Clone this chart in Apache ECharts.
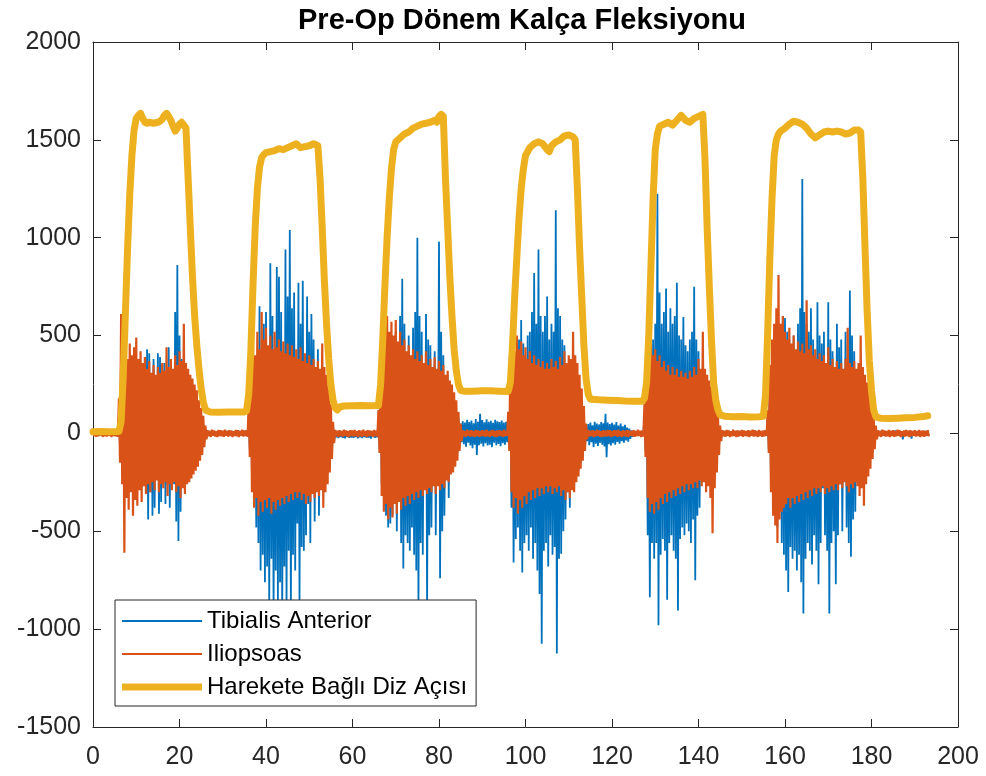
<!DOCTYPE html>
<html>
<head>
<meta charset="utf-8">
<script src="https://cdn.jsdelivr.net/npm/echarts@6/dist/echarts.min.js"></script>
<style>
  html, body { margin: 0; padding: 0; background: #ffffff; }
  #chart { width: 986px; height: 776px; }
</style>
</head>
<body>
<div id="chart"></div>
<script>
// EMG envelopes are stored as one high and one low reading per 0.5 s window,
// starting at t = 0 (one row per 10 s).
const EMG_STEP = 0.5;

const iliopsoasHigh = [
  14,18,12,16,19,13,15,17,12,18,14,16,180,610,350,420,380,460,400,440,
  490,380,420,360,390,330,370,310,350,300,340,310,360,320,440,340,380,330,400,350,
  420,370,560,360,330,300,280,250,220,170,130,90,40,17,13,19,15,12,18,16,
  14,19,13,17,15,12,18,16,13,19,15,17,150,380,450,400,520,430,620,480,
  540,450,500,430,520,440,480,420,470,410,460,400,450,390,430,380,440,370,410,360,
  400,350,380,340,370,330,460,340,300,240,150,60,18,14,16,12,19,15,13,17,
  15,18,12,16,14,19,13,17,15,12,18,14,120,420,520,480,600,520,570,500,
  580,470,520,450,480,420,450,400,430,380,420,370,400,360,420,350,380,340,390,330,
  370,320,350,300,320,270,250,210,170,110,50,16,13,19,14,17,12,18,15,13,
  17,14,19,12,16,18,13,15,17,12,19,14,110,380,470,420,500,430,470,400,
  440,380,420,360,400,350,380,340,370,330,360,330,380,340,370,330,390,350,420,360,
  400,380,520,400,360,300,230,140,50,18,14,16,13,19,15,12,17,14,18,16,
  13,17,15,19,12,16,14,18,15,13,17,12,19,14,16,150,380,430,460,400,
  430,370,400,340,370,320,350,300,340,300,330,290,320,290,310,280,320,290,340,300,
  380,330,520,330,300,270,240,200,150,90,40,17,13,18,15,12,19,14,16,13,
  18,15,12,17,14,19,16,13,18,12,15,17,120,350,480,560,640,810,560,600,
  520,480,540,460,500,430,470,420,460,410,680,430,450,400,430,380,410,370,400,360,
  440,350,380,340,370,330,360,330,380,540,360,340,370,330,360,500,340,300,260,210,
  150,90,40,16,13,19,15,12,18,14,17,13,19,16,12,15,18,14,17,13,
  16,12,18,14,15,13,17
];

const iliopsoasLow = [
  -13,-17,-15,-11,-18,-14,-16,-12,-19,-13,-15,-17,-150,-260,-610,-330,-390,-300,-420,-340,
  -370,-290,-350,-270,-310,-260,-300,-250,-290,-240,-300,-260,-280,-250,-320,-260,-290,-250,-300,-270,
  -330,-280,-310,-260,-250,-230,-210,-190,-170,-140,-110,-70,-30,-14,-18,-12,-16,-19,-13,-15,
  -17,-12,-16,-14,-19,-13,-15,-18,-12,-16,-14,-17,-120,-300,-380,-330,-420,-350,-400,-340,
  -380,-330,-410,-350,-390,-340,-370,-330,-360,-320,-350,-310,-340,-300,-330,-300,-340,-310,-360,-320,
  -350,-310,-330,-300,-320,-290,-380,-300,-260,-200,-130,-50,-15,-18,-13,-17,-12,-16,-19,-14,
  -16,-13,-18,-14,-17,-12,-19,-15,-13,-17,-14,-16,-100,-320,-400,-360,-440,-380,-430,-360,
  -410,-350,-390,-330,-370,-320,-360,-310,-340,-300,-330,-290,-320,-290,-310,-280,-300,-270,-310,-270,
  -290,-260,-280,-240,-250,-210,-200,-170,-140,-90,-40,-15,-18,-12,-16,-14,-19,-13,-17,-15,
  -13,-17,-15,-19,-12,-16,-18,-14,-13,-17,-15,-12,-90,-300,-380,-330,-410,-340,-380,-320,
  -360,-300,-340,-290,-330,-280,-320,-280,-310,-270,-300,-270,-310,-280,-300,-270,-320,-290,-340,-300,
  -330,-290,-300,-250,-220,-180,-140,-90,-30,-16,-13,-18,-15,-12,-17,-19,-14,-16,-13,-18,
  -15,-12,-17,-14,-19,-13,-16,-18,-12,-15,-17,-14,-13,-19,-16,-120,-330,-400,-360,-410,
  -350,-390,-330,-360,-310,-350,-300,-330,-290,-320,-280,-310,-270,-300,-260,-290,-260,-280,-250,-280,
  -240,-270,-250,-300,-270,-330,-510,-280,-200,-110,-40,-14,-17,-12,-18,-15,-13,-19,-16,-12,
  -17,-13,-15,-19,-12,-16,-14,-18,-13,-17,-15,-12,-100,-300,-420,-470,-560,-440,-400,-380,
  -360,-330,-380,-330,-360,-320,-350,-310,-340,-300,-330,-290,-320,-280,-310,-280,-300,-270,-310,-280,
  -300,-270,-290,-260,-290,-260,-280,-250,-270,-300,-260,-280,-250,-270,-320,-280,-370,-260,-220,-180,
  -130,-80,-30,-15,-18,-12,-16,-14,-19,-13,-17,-15,-12,-18,-14,-16,-13,-19,-15,-12,
  -16,-13,-18,-14,-17,-12,-15
];

const tibialisHigh = [
  8,11,6,9,12,7,10,8,11,6,9,10,90,200,230,250,240,260,250,270,
  300,260,280,250,300,430,410,260,380,240,410,390,250,360,280,440,260,280,620,860,
  500,380,300,240,220,200,180,160,140,110,80,50,20,9,12,7,10,8,11,6,
  10,7,12,8,11,9,6,10,12,7,9,11,90,250,300,280,340,650,400,560,
  620,380,870,600,420,850,800,620,400,940,700,1040,640,720,380,770,560,780,360,700,
  520,610,480,300,430,280,300,260,220,170,110,40,6,9,5,8,7,10,6,8,
  7,5,9,6,8,5,7,9,6,8,5,7,80,280,340,320,400,350,380,340,
  520,320,600,790,560,300,500,290,540,620,1000,600,520,260,610,480,450,240,420,230,
  980,520,400,210,300,180,170,140,110,80,50,62,55,70,58,66,52,74,60,101,
  68,57,72,60,65,54,70,62,58,66,55,60,80,260,320,290,340,480,580,460,
  300,500,520,620,820,560,940,600,520,600,700,480,560,520,1140,640,600,480,450,250,
  280,260,350,270,240,200,150,90,40,48,55,42,60,50,46,58,52,101,56,48,
  54,45,58,40,50,36,44,30,25,15,10,12,8,11,9,100,260,290,300,480,
  560,1225,720,560,620,740,520,640,560,600,770,500,480,595,450,420,480,520,750,480,
  420,230,350,220,200,180,160,130,100,60,25,9,12,7,10,8,11,6,9,12,
  8,10,7,11,9,6,12,8,10,7,9,11,80,240,320,380,430,500,540,600,
  590,520,480,310,500,290,560,640,1300,620,560,520,640,480,290,670,500,460,520,240,
  670,480,420,230,560,440,480,220,520,360,730,500,420,220,240,330,230,200,170,140,
  100,60,25,9,12,7,10,8,11,6,9,15,10,8,11,7,9,12,8,10,
  9,11,7,10,8,12,9
];

const tibialisLow = [
  -9,-12,-7,-10,-8,-11,-6,-9,-12,-8,-10,-7,-80,-180,-230,-240,-260,-230,-280,-250,
  -260,-230,-250,-220,-280,-440,-300,-420,-380,-230,-410,-350,-240,-360,-260,-380,-240,-260,-450,-550,
  -400,-250,-230,-200,-190,-170,-150,-140,-120,-100,-70,-45,-20,-10,-7,-12,-8,-11,-9,-6,
  -11,-8,-10,-6,-12,-9,-7,-11,-8,-10,-12,-9,-80,-220,-300,-480,-560,-700,-620,-760,
  -680,-880,-640,-900,-700,-860,-760,-920,-680,-880,-600,-900,-620,-700,-460,-860,-580,-600,-520,-360,
  -560,-300,-450,-280,-420,-260,-300,-240,-200,-150,-100,-40,-20,-24,-18,-22,-25,-19,-23,-21,
  -22,-18,-25,-20,-24,-19,-23,-21,-26,-18,-22,-20,-80,-260,-340,-420,-480,-460,-420,-330,
  -500,-300,-560,-690,-520,-560,-600,-480,-620,-700,-900,-560,-620,-280,-900,-520,-480,-260,-520,-250,
  -740,-500,-420,-220,-330,-170,-160,-130,-100,-70,-45,-55,-68,-48,-62,-75,-58,-110,-60,-52,
  -66,-50,-62,-57,-70,-48,-60,-54,-65,-50,-58,-45,-70,-380,-660,-540,-480,-600,-710,-560,
  -520,-600,-480,-640,-560,-700,-820,-1075,-600,-560,-680,-520,-620,-580,-1125,-640,-615,-500,-440,-300,
  -380,-250,-280,-220,-190,-150,-110,-70,-40,-60,-45,-70,-52,-64,-48,-58,-66,-121,-55,-62,
  -50,-58,-44,-52,-40,-47,-36,-42,-28,-18,-12,-9,-11,-8,-10,-90,-520,-837,-560,-640,
  -560,-980,-620,-540,-600,-850,-560,-520,-600,-640,-905,-540,-480,-520,-460,-500,-560,-440,-750,-420,
  -380,-220,-230,-200,-190,-170,-150,-120,-90,-55,-25,-10,-7,-12,-8,-11,-9,-6,-10,-8,
  -9,-11,-7,-10,-12,-8,-9,-11,-7,-10,-8,-12,-80,-240,-330,-380,-480,-400,-560,-620,
  -700,-810,-580,-640,-600,-700,-620,-760,-920,-640,-560,-600,-670,-520,-600,-770,-560,-280,-520,-600,
  -920,-560,-500,-770,-520,-260,-500,-240,-480,-560,-630,-440,-400,-230,-250,-240,-220,-190,-160,-130,
  -100,-60,-25,-10,-8,-12,-9,-11,-7,-10,-12,-8,-11,-9,-30,-10,-8,-12,-27,-9,
  -11,-8,-10,-12,-9,-7,-10
];

// Knee angle trace: sample times and values, one row per movement cycle.
const kneeTime = [
  0,2,4,6,
  6.5,7,7.5,8,8.5,9,9.5,10,10.5,11,11.5,12,12.5,13,14,15,15.5,16,16.5,17,17.5,18,18.5,19,19.5,20,20.5,21,21.5,22,22.5,23,23.5,24,24.5,25,25.5,26,
  27,29,31,33,35,35.5,
  36,36.5,37,37.5,38,38.5,39,39.5,40,41,42,43,44,45,46,47,47.5,48,49,50,51,52,52.5,53,53.5,54,54.5,55,55.5,56,
  56.5,57,58,60,62,64,66,
  66.5,67,67.5,68,68.5,69,69.5,70,71,72,73,74,75,76,77,78,79,79.5,80,80.5,81,81.5,82,82.5,83,83.5,84,84.5,85,
  86,88,90,92,94,96,
  96.5,97,97.5,98,98.5,99,99.5,100,101,102,103,104,105,105.5,106,107,108,109,110,111,111.5,112,112.5,113,113.5,114,114.5,115,
  117,119,121,123,125,127,
  127.5,128,128.5,129,129.5,130,130.5,131,132,133,134,135,136,137,138,139,140,141,141.5,142,142.5,143,143.5,144,144.5,145,
  146,148,150,152,154,155,
  155.5,156,156.5,157,157.5,158,158.5,159,160,161,162,163,164,165,166,167,168,169,170,171,172,173,174,175,176,177,177.5,178,178.5,179,179.5,180,180.5,181,
  182,184,186,188,190,192,193
];
const kneeAngle = [
  8,10,9,10,
  60,300,620,950,1220,1420,1550,1610,1625,1635,1610,1590,1585,1590,1585,1590,1595,1605,1625,1635,1620,1600,1570,1545,1560,1580,1590,1575,1560,1300,1050,800,600,450,330,230,160,120,
  110,108,110,109,110,115,
  200,420,760,1050,1250,1360,1410,1425,1435,1440,1445,1455,1450,1460,1470,1480,1470,1460,1465,1470,1480,1470,1300,1050,780,560,380,250,170,130,
  120,135,140,142,143,142,143,
  250,480,760,1000,1200,1350,1450,1490,1510,1530,1540,1560,1570,1580,1585,1590,1600,1590,1620,1630,1620,1300,1050,800,600,430,320,250,220,
  215,215,218,218,216,214,
  260,450,700,900,1100,1250,1350,1420,1460,1480,1490,1480,1450,1440,1470,1490,1500,1520,1525,1515,1500,1250,950,700,450,280,200,175,
  172,170,168,166,165,165,
  180,260,500,850,1200,1450,1530,1570,1580,1590,1575,1600,1625,1600,1590,1610,1620,1630,1400,1050,750,480,260,170,120,95,
  88,85,86,84,85,88,
  200,520,900,1200,1420,1500,1530,1545,1560,1580,1595,1590,1580,1560,1530,1510,1525,1540,1545,1540,1545,1540,1530,1535,1550,1550,1540,1300,950,620,370,220,120,85,
  78,76,78,80,82,86,90
];

const xTicks = { min: 0, max: 200, step: 20 };
const yTicks = { min: -1500, max: 2000, step: 500 };

const seriesNames = ['Tibialis Anterior', 'Iliopsoas', 'Harekete Bağlı Diz Açısı'];
const colors = ['#0072BD', '#D95319', '#EDB120'];

[[iliopsoasLow, 'iliopsoasLow'], [tibialisHigh, 'tibialisHigh'], [tibialisLow, 'tibialisLow']]
  .forEach(([a, n]) => {
    if (a.length !== iliopsoasHigh.length) throw new Error(n + ' has ' + a.length + ' values');
  });
if (kneeTime.length !== kneeAngle.length) {
  throw new Error('knee arrays differ: ' + kneeTime.length + ' vs ' + kneeAngle.length);
}

// Interleave the high/low readings of each window into one trace.
function emgTrace(high, low) {
  const pts = [];
  for (let i = 0; i < high.length; i++) {
    const t = i * EMG_STEP;
    pts.push([t, high[i]]);
    pts.push([t + EMG_STEP / 2, low[i]]);
  }
  return pts;
}

const kneeTrace = kneeTime.map((t, i) => [t, kneeAngle[i]]);

const FONT = '"Liberation Sans", Arial, Helvetica, sans-serif';
const INK = '#262626';
const plainNumber = (v) => String(v);

function boxAxis(extra, ticks) {
  return Object.assign({
    type: 'value',
    min: ticks.min,
    max: ticks.max,
    interval: ticks.step,
    axisLine: { show: true, onZero: false, lineStyle: { color: INK, width: 1 } },
    axisTick: { show: true, inside: true, length: 8, lineStyle: { color: INK, width: 1 } },
    axisLabel: { show: false },
    splitLine: { show: false }
  }, extra);
}

const chart = echarts.init(document.getElementById('chart'), null, { renderer: 'canvas' });

chart.setOption({
  backgroundColor: '#ffffff',
  animation: false,
  title: {
    text: 'Pre-Op Dönem Kalça Fleksiyonu',
    left: 293,
    top: 1,
    textStyle: { fontFamily: FONT, fontSize: 29, fontWeight: 'bold', color: '#000000' }
  },
  grid: { left: 93, right: 28, top: 42, bottom: 49, containLabel: false },
  xAxis: [
    boxAxis({
      position: 'bottom',
      axisLabel: { show: true, color: INK, fontFamily: FONT, fontSize: 25, margin: 18, formatter: plainNumber }
    }, xTicks),
    boxAxis({ position: 'top' }, xTicks)
  ],
  yAxis: [
    boxAxis({
      position: 'left',
      axisLabel: { show: true, color: INK, fontFamily: FONT, fontSize: 25, margin: 12, formatter: plainNumber }
    }, yTicks),
    boxAxis({ position: 'right' }, yTicks)
  ],
  legend: {
    orient: 'vertical',
    left: 115,
    top: 600,
    padding: [7, 9, 5, 7],
    itemGap: 5,
    itemWidth: 80,
    itemHeight: 8,
    selectedMode: false,
    backgroundColor: '#ffffff',
    borderColor: INK,
    borderWidth: 1,
    borderRadius: 0,
    itemStyle: { borderWidth: 0 },
    textStyle: { fontFamily: FONT, fontSize: 24, color: '#000000', lineHeight: 28 },
    data: [
      { name: seriesNames[0], icon: 'path://M0,0H80V2H0Z' },
      { name: seriesNames[1], icon: 'path://M0,0H80V2H0Z' },
      { name: seriesNames[2], icon: 'path://M0,0H80V7H0Z' }
    ]
  },
  series: [
    {
      name: seriesNames[0],
      type: 'line',
      xAxisIndex: 0, yAxisIndex: 0,
      data: emgTrace(tibialisHigh, tibialisLow),
      showSymbol: false, symbol: 'none', silent: true,
      color: colors[0],
      lineStyle: { color: colors[0], width: 1.8 }
    },
    {
      name: seriesNames[1],
      type: 'line',
      xAxisIndex: 0, yAxisIndex: 0,
      data: emgTrace(iliopsoasHigh, iliopsoasLow),
      showSymbol: false, symbol: 'none', silent: true,
      color: colors[1],
      lineStyle: { color: colors[1], width: 2.2 }
    },
    {
      name: seriesNames[2],
      type: 'line',
      xAxisIndex: 0, yAxisIndex: 0,
      data: kneeTrace,
      showSymbol: false, symbol: 'none', silent: true,
      color: colors[2],
      lineStyle: { color: colors[2], width: 7, join: 'round', cap: 'round' }
    }
  ]
});
</script>
</body>
</html>
